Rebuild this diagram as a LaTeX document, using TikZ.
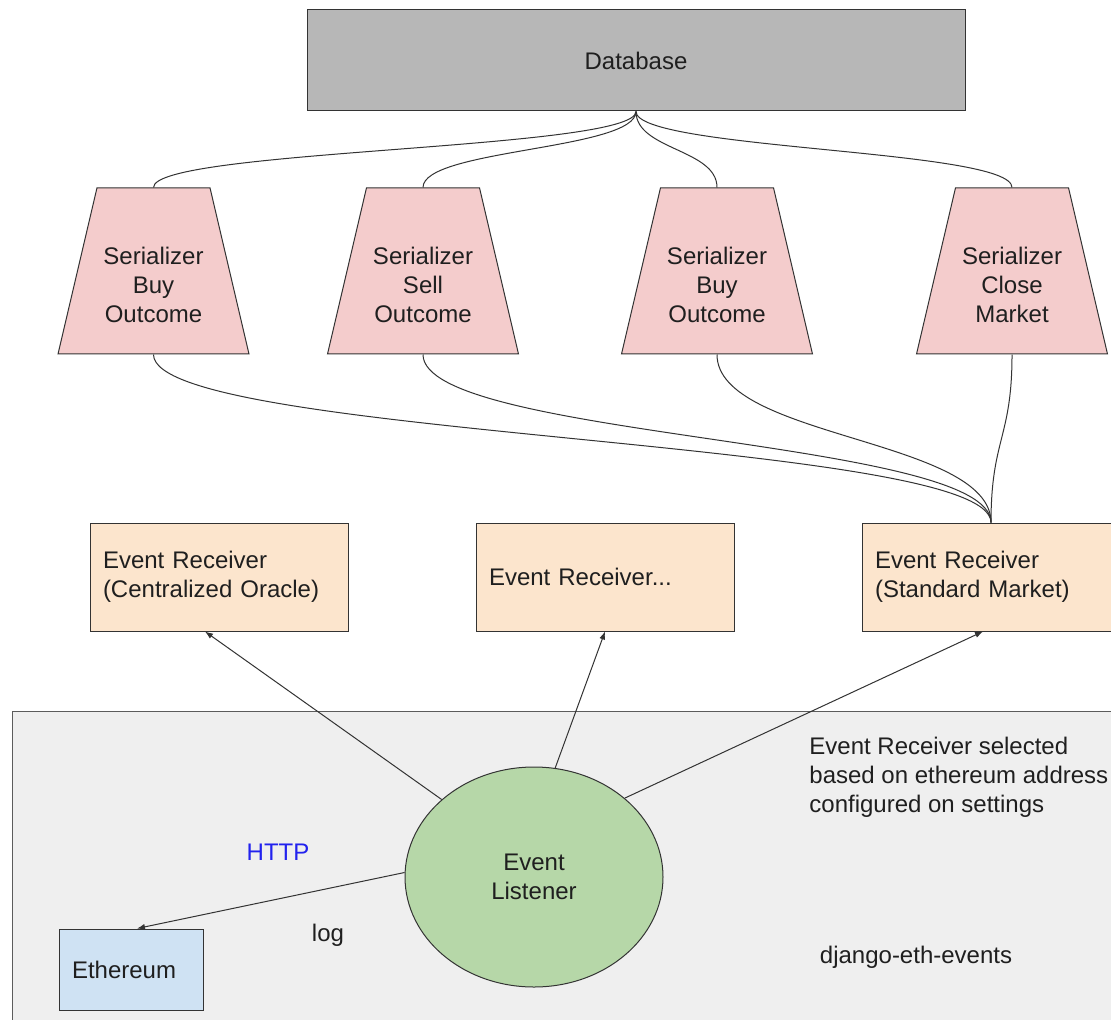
\documentclass[tikz,border=0pt]{standalone}
\usepackage{fontspec}
\setmainfont{Liberation Sans}
\usetikzlibrary{shapes.geometric,arrows.meta}
\definecolor{dbgray}{HTML}{B7B7B7}
\definecolor{serpink}{HTML}{F4CCCC}
\definecolor{recvtan}{HTML}{FCE5CD}
\definecolor{listgreen}{HTML}{B6D7A8}
\definecolor{ethblue}{HTML}{CFE2F3}
\definecolor{bggray}{HTML}{EFEFEF}
\definecolor{edge}{HTML}{333333}
\definecolor{txt}{HTML}{1F1F1F}
\definecolor{httpblue}{HTML}{2222EE}
\begin{document}
\begin{tikzpicture}[x=0.5pt,y=-0.5pt,
        every node/.style={font=\fontsize{12}{14.5}\selectfont, text=txt},
        box/.style={draw=edge, line width=0.5pt, rectangle, inner sep=0pt},
        serial/.style={draw=edge, line width=0.5pt, fill=serpink, trapezium,
            trapezium angle=71, trapezium stretches=true,
            minimum width=95.5pt, minimum height=83pt, inner sep=2pt},
        sertext/.style={align=center, yshift=-7pt},
        recv/.style={box, fill=recvtan, minimum width=129pt, minimum height=54pt,
            text width=116pt, align=left},
        link/.style={draw=edge, line width=0.5pt},
        arr/.style={link, -{Latex[length=4pt,width=3pt]}}]
    \useasboundingbox (0,0) rectangle (1111,1020);
    \fill[white] (0,0) rectangle (1111,1020);
    \clip (0,0) rectangle (1111,1020);
    % django-eth-events area
    \draw[draw=edge!80, fill=bggray, line width=0.5pt] (12,711) rectangle (1130,1040);
    % database and serializers
    \node[box, fill=dbgray, minimum width=329pt, minimum height=50.5pt] (db) at (636,60.5) {Database};
    \node[serial, label={[sertext]center:{Serializer\\Buy\\Outcome}}] (ser1) at (153.5,271) {};
    \node[serial, label={[sertext]center:{Serializer\\Sell\\Outcome}}] (ser2) at (423,271) {};
    \node[serial, label={[sertext]center:{Serializer\\Buy\\Outcome}}] (ser3) at (717,271) {};
    \node[serial, label={[sertext]center:{Serializer\\Close\\Market}}] (ser4) at (1012,271) {};
    % event receivers
    \node[recv] (recv1) at (219,577) {Event Receiver\\(Centralized Oracle)};
    \node[recv] (recv2) at (605,577) {Event Receiver...};
    \node[recv] (recv3) at (991,577) {Event Receiver\\(Standard Market)};
    % listener and ethereum
    \node[ellipse, draw=edge, line width=0.5pt, fill=listgreen, minimum width=129pt,
        minimum height=110pt, inner sep=0pt, align=center] (listener) at (534,877) {Event\\Listener};
    \node[box, fill=ethblue, minimum width=72pt, minimum height=40.5pt,
        text width=59pt, align=left] (eth) at (131,969.5) {Ethereum};
    \node[text=httpblue] (http) at (278,852) {HTTP};
    \node (log) at (328,935) {log};
    \node[anchor=west, align=left, inner sep=0pt] (note) at (809,777)
        {Event Receiver selected\\based on ethereum address\\configured on settings};
    \node (pkg) at (916,957) {django-eth-events};
    % curves
    \draw[link] (db.south) .. controls +(0,38.5) and +(0,-38.5) .. (ser1.north);
    \draw[link] (db.south) .. controls +(0,38.5) and +(0,-38.5) .. (ser2.north);
    \draw[link] (db.south) .. controls +(0,38.5) and +(0,-38.5) .. (ser3.north);
    \draw[link] (db.south) .. controls +(0,38.5) and +(0,-38.5) .. (ser4.north);
    \draw[link] (ser1.south) .. controls +(0,84) and +(0,-84) .. (recv3.north);
    \draw[link] (ser2.south) .. controls +(0,84) and +(0,-84) .. (recv3.north);
    \draw[link] (ser3.south) .. controls +(0,84) and +(0,-84) .. (recv3.north);
    \draw[link] (ser4.south) .. controls +(0,84) and +(0,-84) .. (recv3.north);
    % arrows
    \draw[arr] (listener.140) -- ([xshift=-7pt]recv1.south);
    \draw[arr] (listener.79) -- (recv2.south);
    \draw[arr] (listener.41) -- ([xshift=-4pt]recv3.south);
    \draw[arr] (listener.178) -- ([xshift=3pt]eth.north);
\end{tikzpicture}
\end{document}
